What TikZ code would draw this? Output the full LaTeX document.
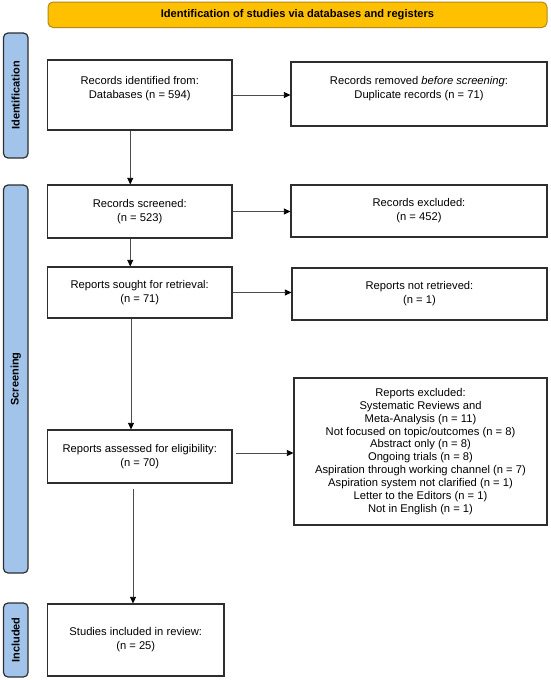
\documentclass[tikz,border=0pt]{standalone}
\usepackage{fontspec}
\setmainfont{Liberation Sans}
\usetikzlibrary{arrows.meta,calc}
\definecolor{barfill}{HTML}{FFC000}
\definecolor{barline}{HTML}{B08A1A}
\definecolor{sidefill}{HTML}{A3C4EA}
\definecolor{boxline}{HTML}{2E2E2E}
\begin{document}
\begin{tikzpicture}[x=1pt,y=-1pt,
  font=\fontsize{11.2}{14}\selectfont,
  box/.style={draw=boxline, line width=1.2pt, fill=white, inner sep=0pt, align=center},
  side/.style={draw=boxline, line width=1.2pt, fill=sidefill, rounded corners=4.5pt, inner sep=0pt,
    minimum width=24.5pt},
  sidetxt/.style={rotate=90, font=\fontsize{11}{13}\selectfont\bfseries},
  boxtxt/.style={align=center, font=\fontsize{11.2}{14}\selectfont},
  arr/.style={draw=black!70, line width=0.75pt, -{Triangle[length=6.5pt,width=6pt,color=black,fill=black]}}
]
\useasboundingbox (0,0) rectangle (550,680);

% header bar
\node[draw=barline, line width=1pt, fill=barfill, rounded corners=5pt,
      minimum width=499pt, minimum height=25.5pt, inner sep=0pt,
      font=\fontsize{11.1}{13}\selectfont\bfseries] (hdr) at (297.5,14.75)
      {Identification of studies via databases and registers};

% side bars
\node[side, minimum height=125pt] (s1) at (15.75,95.5) {};
\node[sidetxt] (s1t) at (s1.center) {Identification};
\node[side, minimum height=388pt] (s2) at (15.75,379) {};
\node[sidetxt] (s2t) at (s2.center) {Screening};
\node[side, minimum height=74pt] (s3) at (15.75,640) {};
\node[sidetxt] (s3t) at (s3.center) {Included};

% boxes
\node[box, minimum width=184.5pt, minimum height=70pt,
      label={[boxtxt, yshift=6pt]center:Records identified from:\\Databases (n = 594)}]
      (b1) at (139.75,95) {};
\node[box, minimum width=256pt, minimum height=64pt,
      label={[boxtxt, yshift=5pt]center:Records removed \emph{before screening}:\\Duplicate records (n = 71)}]
      (rem) at (419,94) {};
\node[box, minimum width=184.5pt, minimum height=53pt] (scr) at (139.75,211.5)
      {Records screened:\\(n = 523)};
\node[box, minimum width=256pt, minimum height=52pt] (exc) at (419,211)
      {Records excluded:\\(n = 452)};
\node[box, minimum width=184.5pt, minimum height=51pt] (sgt) at (139.75,292.5)
      {Reports sought for retrieval:\\(n = 71)};
\node[box, minimum width=255pt, minimum height=52pt] (nrt) at (419.5,294)
      {Reports not retrieved:\\(n = 1)};
\node[box, minimum width=184.5pt, minimum height=53pt] (asd) at (139.75,456.5)
      {Reports assessed for eligibility:\\(n = 70)};
\node[box, minimum width=253pt, minimum height=147pt, font=\fontsize{11.2}{12.9}\selectfont] (rex) at (420.5,451.5)
      {Reports excluded:\\Systematic Reviews and\\Meta-Analysis (n = 11)\\Not focused on topic/outcomes (n = 8)\\Abstract only (n = 8)\\Ongoing trials (n = 8)\\Aspiration through working channel (n = 7)\\Aspiration system not clarified (n = 1)\\Letter to the Editors (n = 1)\\Not in English (n = 1)};
\node[box, minimum width=176.5pt, minimum height=72pt] (inc) at (135.75,640)
      {Studies included in review:\\(n = 25)};

% vertical connectors
\draw[arr] ($(b1.south)+(-9.5,0)$) -- ($(scr.north)+(-9.5,0)$);
\draw[arr] ($(scr.south)+(-9.5,0)$) -- ($(sgt.north)+(-9.5,0)$);
\draw[arr] ($(sgt.south)+(-8.75,0)$) -- ($(asd.north)+(-8.75,0)$);
\draw[arr] ($(asd.south)+(-6.75,5)$) -- ($(inc.north)+(-2.75,0)$);

% horizontal connectors
\coordinate (a4) at ($(asd.east)+(3,-3.5)$);
\draw[arr] (b1.east) -- (b1.east -| rem.west);
\draw[arr] (scr.east) -- (scr.east -| exc.west);
\draw[arr] (sgt.east) -- (sgt.east -| nrt.west);
\draw[arr] (a4) -- (a4 -| rex.west);
\end{tikzpicture}
\end{document}
